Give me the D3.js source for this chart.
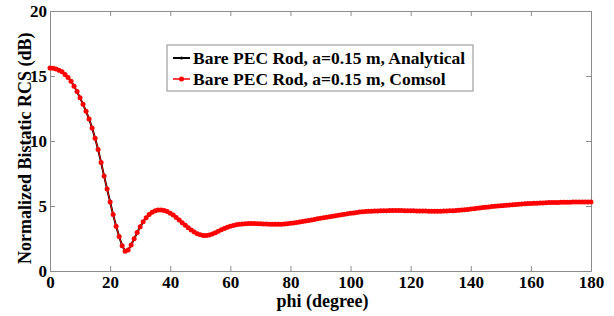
<!DOCTYPE html>
<html>
<head>
<meta charset="utf-8">
<script src="https://cdn.jsdelivr.net/npm/d3@7"></script>
<style>
  body { margin: 0; background: #fff; }
  text { font-family: "Liberation Serif", "Times New Roman", serif; font-weight: bold; }
</style>
</head>
<body>
<div id="myChart"></div>
<script>
// phi in degrees, one sample per degree
var phi = d3.range(0, 181, 1);

// normalized bistatic RCS (dB), phi = 0..180
var comsolRcs = [
  15.62, 15.60, 15.54, 15.45, 15.32, 15.12, 14.88, 14.60, 14.22, 13.80,
  13.32, 12.82, 12.28, 11.70, 11.00, 10.22, 9.35, 8.35, 7.30, 6.30,
  5.30, 4.35, 3.45, 2.65, 1.95, 1.52, 1.62, 2.00, 2.48, 2.96,
  3.40, 3.78, 4.10, 4.35, 4.52, 4.63, 4.69, 4.70, 4.66, 4.58,
  4.45, 4.30, 4.12, 3.92, 3.72, 3.52, 3.33, 3.15, 3.00, 2.87,
  2.78, 2.73, 2.73, 2.77, 2.85, 2.95, 3.06, 3.17, 3.27, 3.36,
  3.44, 3.50, 3.55, 3.59, 3.62, 3.64, 3.65, 3.65, 3.65, 3.64,
  3.63, 3.62, 3.61, 3.60, 3.59, 3.59, 3.59, 3.60, 3.62, 3.64,
  3.67, 3.70, 3.73, 3.77, 3.81, 3.85, 3.89, 3.93, 3.97, 4.01,
  4.05, 4.09, 4.13, 4.17, 4.21, 4.25, 4.29, 4.33, 4.37, 4.41,
  4.44, 4.47, 4.50, 4.53, 4.55, 4.57, 4.59, 4.60, 4.61, 4.62,
  4.63, 4.64, 4.64, 4.65, 4.65, 4.65, 4.65, 4.65, 4.64, 4.64,
  4.63, 4.63, 4.62, 4.62, 4.61, 4.61, 4.60, 4.60, 4.60, 4.60,
  4.60, 4.61, 4.62, 4.63, 4.64, 4.66, 4.68, 4.70, 4.72, 4.74,
  4.76, 4.79, 4.82, 4.85, 4.88, 4.90, 4.93, 4.96, 4.98, 5.00,
  5.02, 5.04, 5.06, 5.08, 5.10, 5.12, 5.14, 5.16, 5.17, 5.19,
  5.20, 5.21, 5.22, 5.23, 5.24, 5.25, 5.26, 5.26, 5.27, 5.27,
  5.28, 5.28, 5.29, 5.29, 5.30, 5.30, 5.30, 5.30, 5.30, 5.30,
  5.30
];
// analytical curve sits right under the Comsol one
var analyticalRcs = comsolRcs.slice();

var xTicks = [0, 20, 40, 60, 80, 100, 120, 140, 160, 180];
var yTicks = [0, 5, 10, 15, 20];
var legendLabels = ["Bare PEC Rod, a=0.15 m, Analytical", "Bare PEC Rod, a=0.15 m, Comsol"];
var legendColors = ["#000000", "#ff0000"];

let svgWidth = 614;
let svgHeight = 316;
let margin = { left: 50, right: 23, top: 11, bottom: 45 };
let plotW = svgWidth - margin.left - margin.right;
let plotH = svgHeight - margin.top - margin.bottom;

let svg = d3.select("#myChart").append("svg")
  .attr("width", svgWidth)
  .attr("height", svgHeight);

let g = svg.append("g")
  .attr("transform", "translate(" + margin.left + "," + margin.top + ")");

var x = d3.scaleLinear().domain([0, 180]).range([0, plotW]);
var y = d3.scaleLinear().domain([0, 20]).range([plotH, 0]);

var axisColor = "#8c8c8c";

// bottom + left axes with labels, top + right just ticks (box on)
function styleAxis(sel) {
  sel.attr("font-family", null).attr("font-size", null);
  sel.select(".domain").attr("stroke", axisColor);
  sel.selectAll(".tick line").attr("stroke", axisColor);
  sel.selectAll(".tick text")
    .attr("fill", "#000")
    .style("font-family", "'Liberation Serif', 'Times New Roman', serif")
    .style("font-weight", "bold")
    .style("font-size", "17px");
}

g.append("g")
  .attr("transform", "translate(0," + plotH + ")")
  .call(d3.axisBottom(x).tickValues(xTicks).tickSizeInner(-5).tickSizeOuter(0).tickPadding(5))
  .call(styleAxis);

g.append("g")
  .call(d3.axisLeft(y).tickValues(yTicks).tickSizeInner(-5).tickSizeOuter(0).tickPadding(3))
  .call(styleAxis);

g.append("g")
  .call(d3.axisTop(x).tickValues(xTicks).tickSizeInner(-5).tickSizeOuter(0).tickFormat(""))
  .call(styleAxis);

g.append("g")
  .attr("transform", "translate(" + plotW + ",0)")
  .call(d3.axisRight(y).tickValues(yTicks).tickSizeInner(-5).tickSizeOuter(0).tickFormat(""))
  .call(styleAxis);

// curves
var line = d3.line()
  .x(function(d, i) { return x(phi[i]); })
  .y(function(d) { return y(d); });

g.append("path")
  .datum(analyticalRcs)
  .attr("fill", "none")
  .attr("stroke", "#000")
  .attr("stroke-width", 2)
  .attr("d", line);

g.append("path")
  .datum(comsolRcs)
  .attr("fill", "none")
  .attr("stroke", "#ff0000")
  .attr("stroke-width", 1)
  .attr("d", line);

g.append("g")
  .selectAll("circle")
  .data(comsolRcs)
  .enter()
  .append("circle")
  .attr("cx", function(d, i) { return x(phi[i]); })
  .attr("cy", function(d) { return y(d); })
  .attr("r", 2.5)
  .attr("fill", "#ff0000");

// axis titles
svg.append("text")
  .attr("x", margin.left + plotW / 2 + 2)
  .attr("y", 307)
  .attr("text-anchor", "middle")
  .style("font-size", "18px")
  .text("phi (degree)");

svg.append("text")
  .attr("transform", "translate(31,264) rotate(-90)")
  .attr("text-anchor", "start")
  .style("font-size", "18px")
  .text("Normalized Bistatic RCS (dB)");

// legend
var legend = svg.append("g").attr("transform", "translate(167,45)");
legend.append("rect")
  .attr("width", 306)
  .attr("height", 46)
  .attr("fill", "#fff")
  .attr("stroke", axisColor);

var rows = legend.selectAll(".row")
  .data(legendLabels)
  .enter()
  .append("g")
  .attr("transform", function(d, i) { return "translate(0," + (13 + i * 21) + ")"; });

rows.append("line")
  .attr("x1", 6).attr("x2", 23)
  .attr("stroke", function(d, i) { return legendColors[i]; })
  .attr("stroke-width", function(d, i) { return i === 0 ? 2 : 1.5; });

rows.append("circle")
  .attr("cx", 14.5)
  .attr("r", function(d, i) { return i === 0 ? 1.5 : 2.5; })
  .attr("fill", function(d, i) { return legendColors[i]; });

rows.append("text")
  .attr("x", 26)
  .attr("y", 6)
  .style("font-size", "17.5px")
  .text(function(d) { return d; });
</script>
</body>
</html>
